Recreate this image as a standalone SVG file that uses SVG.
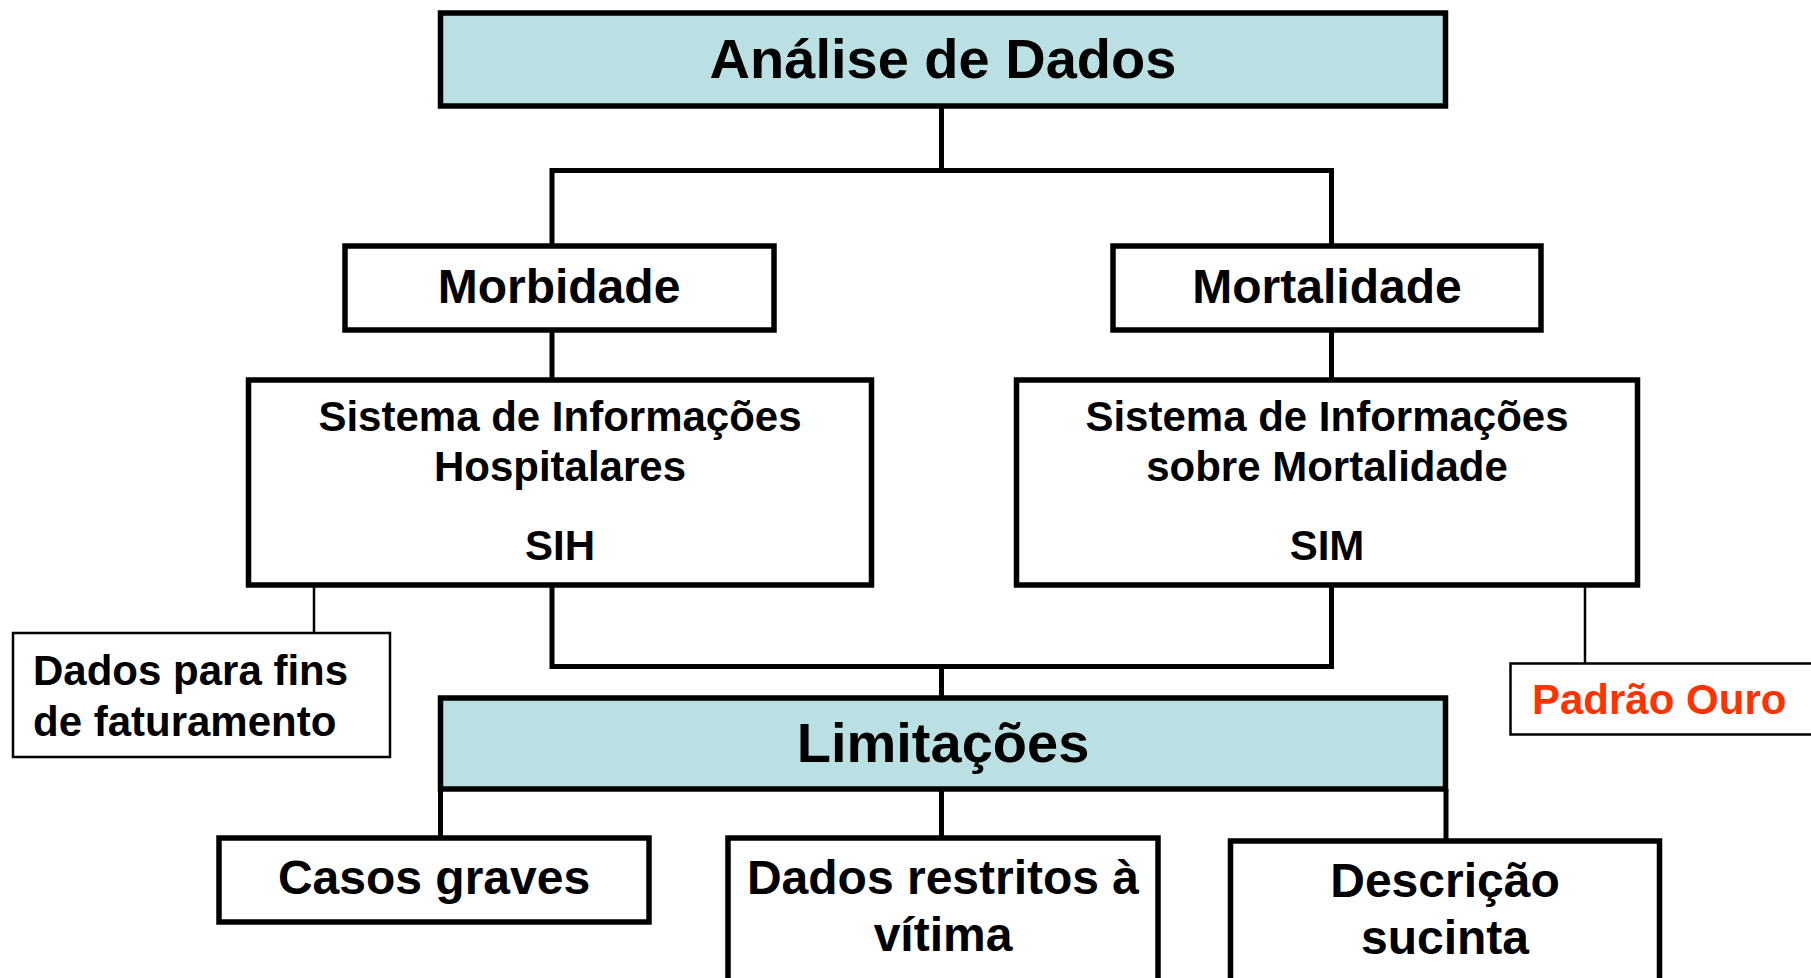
<svg xmlns="http://www.w3.org/2000/svg" width="1811" height="978" viewBox="0 0 1811 978">
<style>
.box{fill:#fff;stroke:#000;stroke-width:5.5}
.hd{fill:#BAE0E3;stroke:#000;stroke-width:5.5}
.thin{fill:#fff;stroke:#000;stroke-width:2.5}
.t{font-family:"Liberation Sans",Arial,sans-serif;font-weight:bold;fill:#000;text-anchor:middle}
.tl{font-family:"Liberation Sans",Arial,sans-serif;font-weight:bold;fill:#000}
.c{fill:none;stroke:#000;stroke-width:5}
.ct{fill:none;stroke:#000;stroke-width:2.5}
</style>
<rect width="1811" height="978" fill="#fff"/>
<g id="connectors">
<path class="c" d="M941.5 106V170.5M552 170.5H1331.5M552 168V246M1331.5 168V246"/>
<path class="c" d="M552 330V380M1331.5 330V380"/>
<path class="c" d="M552 585V666.5H1331.5V585M941.5 666.5V698"/>
<path class="c" d="M440.5 789V838M941.5 789V838M1446 789V841"/>
<path class="ct" d="M314 585V633M1585 585V663"/>
</g>
<g id="analise">
<rect class="hd" x="440.5" y="13" width="1005" height="93"/>
<text class="t" x="943" y="78" font-size="56">Análise de Dados</text>
</g>
<g id="morbidade">
<rect class="box" x="345" y="246" width="429" height="84"/>
<text class="t" x="559" y="303" font-size="48">Morbidade</text>
</g>
<g id="mortalidade">
<rect class="box" x="1113" y="246" width="428" height="84"/>
<text class="t" x="1327" y="303" font-size="48">Mortalidade</text>
</g>
<g id="sih">
<rect class="box" x="248.5" y="380" width="623" height="205"/>
<text class="t" x="560" y="431" font-size="42">Sistema de Informações</text>
<text class="t" x="560" y="481" font-size="42">Hospitalares</text>
<text class="t" x="560" y="560" font-size="42">SIH</text>
</g>
<g id="sim">
<rect class="box" x="1016.5" y="380" width="621" height="205"/>
<text class="t" x="1327" y="431" font-size="42">Sistema de Informações</text>
<text class="t" x="1327" y="481" font-size="42">sobre Mortalidade</text>
<text class="t" x="1327" y="560" font-size="42">SIM</text>
</g>
<g id="faturamento">
<rect class="thin" x="13" y="633" width="377" height="124"/>
<text class="tl" x="33" y="685" font-size="42">Dados para fins</text>
<text class="tl" x="33" y="736" font-size="42">de faturamento</text>
</g>
<g id="padrao">
<rect class="thin" x="1510.5" y="663.5" width="320" height="71"/>
<text class="tl" x="1532" y="714" font-size="42" style="fill:#FF3300">Padrão Ouro</text>
</g>
<g id="limitacoes">
<rect class="hd" x="440.5" y="698" width="1005" height="91"/>
<text class="t" x="943" y="762" font-size="56">Limitações</text>
</g>
<g id="casos">
<rect class="box" x="219" y="838" width="430" height="84"/>
<text class="t" x="434" y="894" font-size="48">Casos graves</text>
</g>
<g id="dados">
<rect class="box" x="728" y="838" width="430" height="160"/>
<text class="t" x="943" y="894" font-size="48">Dados restritos à</text>
<text class="t" x="943" y="951" font-size="48">vítima</text>
</g>
<g id="descricao">
<rect class="box" x="1230.5" y="841" width="429" height="160"/>
<text class="t" x="1445" y="897" font-size="48">Descrição</text>
<text class="t" x="1445" y="954" font-size="48">sucinta</text>
</g>
</svg>
